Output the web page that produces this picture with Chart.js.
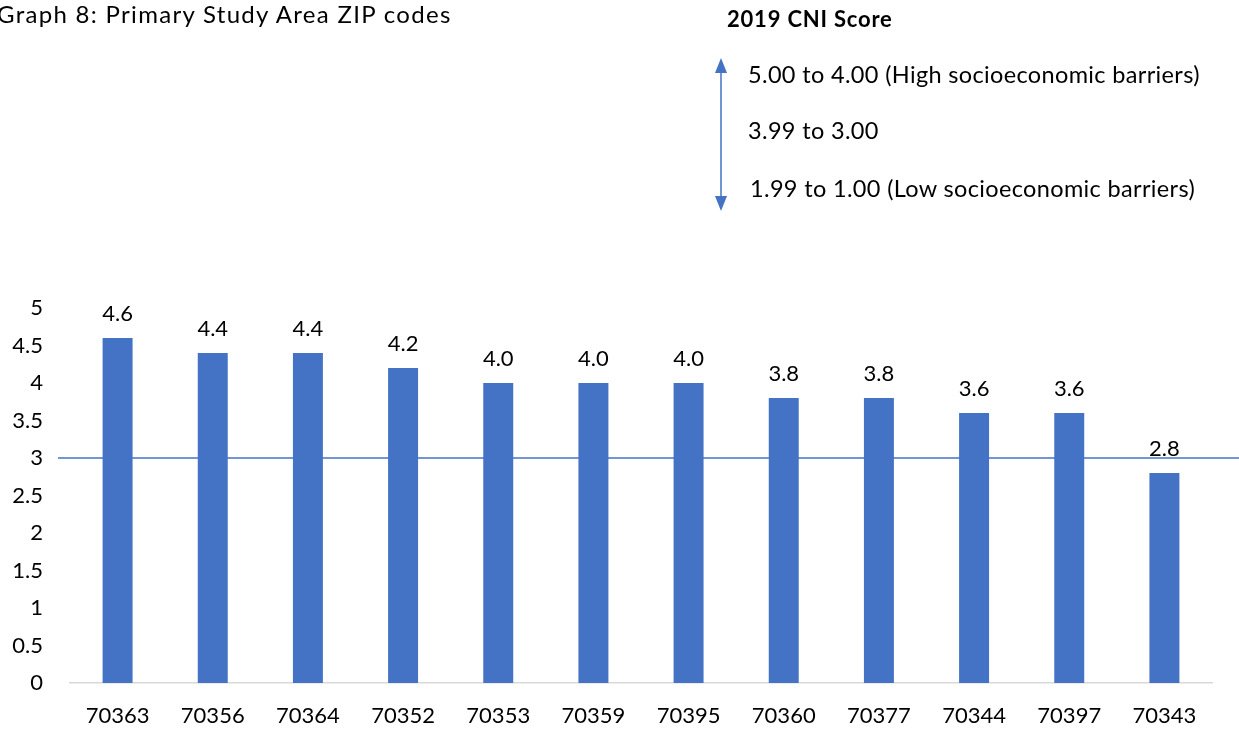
<!DOCTYPE html>
<html>
<head>
<meta charset="utf-8">
<script src="https://cdn.jsdelivr.net/npm/chart.js@4"></script>
<style>
  html, body { margin: 0; padding: 0; background: #fff; overflow: hidden; }
  body { width: 1239px; height: 731px; position: relative; font-family: Lato, "Open Sans", sans-serif; color: #000; }
  #wrap { position: absolute; left: 0; top: 0; width: 1239px; height: 731px; }
  .txt { position: absolute; white-space: nowrap; line-height: 1; }
  #title { left: -3px; top: 2px; font-size: 24px; letter-spacing: 1.3px; }
  #lgTitle { left: 727px; top: 8px; font-size: 22px; font-weight: bold; letter-spacing: 0.8px; }
  .lg { left: 748px; font-size: 23.5px; letter-spacing: 0.35px; }
  #arrow { position: absolute; left: 710px; top: 56px; }
</style>
</head>
<body>
<div id="wrap"><canvas id="c" width="1239" height="731"></canvas></div>
<div class="txt" id="title">Graph 8: Primary Study Area ZIP codes</div>
<div class="txt" id="lgTitle">2019 CNI Score</div>
<div class="txt lg" style="top:63px">5.00 to 4.00 (High socioeconomic barriers)</div>
<div class="txt lg" style="top:119px">3.99 to 3.00</div>
<div class="txt lg" style="top:177px;left:750px">1.99 to 1.00 (Low socioeconomic barriers)</div>
<svg id="arrow" width="24" height="160" viewBox="0 0 24 160">
  <line x1="11" y1="14" x2="11" y2="142" stroke="#4472c4" stroke-width="1.5"/>
  <polygon points="11,2 5,17 17,17" fill="#4472c4"/>
  <polygon points="11,155 5,140 17,140" fill="#4472c4"/>
</svg>
<script>
const zipCodes = ["70363","70356","70364","70352","70353","70359","70395","70360","70377","70344","70397","70343"];
const cniScores = [4.6, 4.4, 4.4, 4.2, 4.0, 4.0, 4.0, 3.8, 3.8, 3.6, 3.6, 2.8];
const referenceLine = 3;
const yMin = 0, yMax = 5, yStep = 0.5;

const refLinePlugin = {
  id: 'refLine',
  beforeDatasetsDraw(chart) {
    const y = chart.scales.y.getPixelForValue(referenceLine);
    const ctx = chart.ctx;
    ctx.save();
    ctx.strokeStyle = '#4472c4';
    ctx.lineWidth = 1.5;
    ctx.beginPath();
    ctx.moveTo(58, y);
    ctx.lineTo(chart.width, y);
    ctx.stroke();
    ctx.restore();
  }
};

const labelPlugin = {
  id: 'barLabels',
  afterDatasetsDraw(chart) {
    const ctx = chart.ctx;
    const meta = chart.getDatasetMeta(0);
    ctx.save();
    ctx.font = '22px Lato, "Open Sans", sans-serif';
    ctx.fillStyle = '#000';
    ctx.textAlign = 'center';
    ctx.textBaseline = 'alphabetic';
    meta.data.forEach((bar, i) => {
      ctx.fillText(cniScores[i].toFixed(1), bar.x, bar.y - 17);
    });
    ctx.restore();
  }
};

new Chart(document.getElementById('c'), {
  type: 'bar',
  data: {
    labels: zipCodes,
    datasets: [{
      data: cniScores,
      backgroundColor: '#4472c4',
      borderWidth: 0,
      categoryPercentage: 1,
      barPercentage: 0.315
    }]
  },
  options: {
    responsive: false,
    animation: false,
    devicePixelRatio: 1,
    layout: { padding: { top: 308, right: 27, bottom: 0, left: 0 } },
    plugins: { legend: { display: false }, tooltip: { enabled: false }, title: { display: false } },
    scales: {
      x: {
        grid: { display: false, drawTicks: false },
        border: { display: true, color: '#d9d9d9', width: 1.5 },
        ticks: { color: '#000', font: { family: 'Lato', size: 22 }, padding: 20, maxRotation: 0 },
        afterFit(s) { s.height = 48; }
      },
      y: {
        min: yMin, max: yMax,
        grid: { display: false, drawTicks: false },
        border: { display: false },
        ticks: { stepSize: yStep, color: '#000', font: { family: 'Lato', size: 22 }, padding: 27, callback: v => String(v) },
        afterFit(s) { s.width = 70; }
      }
    }
  },
  plugins: [refLinePlugin, labelPlugin]
});
</script>
</body>
</html>
